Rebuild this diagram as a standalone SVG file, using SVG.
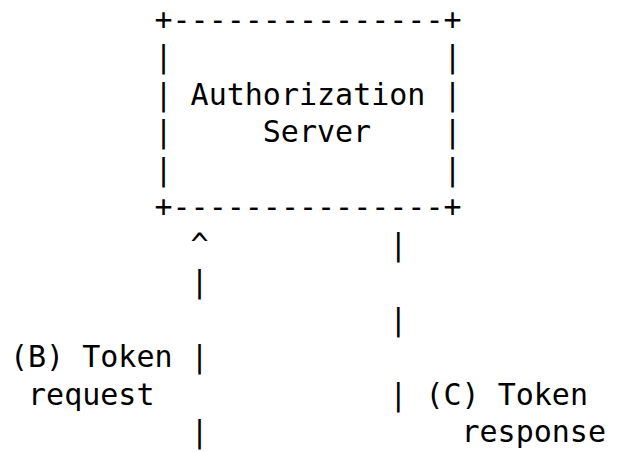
<svg xmlns="http://www.w3.org/2000/svg" width="621" height="452" viewBox="0 0 621 452">
  <style>
    text { font-family: "DejaVu Sans Mono", "Liberation Mono", monospace; font-size: 30px; fill: #000; white-space: pre; }
  </style>
  <rect width="621" height="452" fill="#fff"/>

  <!-- Authorization Server box, drawn in ASCII on a 18.06px character grid -->
  <g id="authorization-server">
    <text x="154.5" y="29.6">+---------------+</text>
    <text x="154.5" y="67.1">|</text>
    <text x="443.4" y="67.1">|</text>
    <text x="154.5" y="104.6">|</text>
    <text x="190.6" y="104.6">Authorization</text>
    <text x="443.4" y="104.6">|</text>
    <text x="154.5" y="142.1">|</text>
    <text x="262.8" y="142.1">Server</text>
    <text x="443.4" y="142.1">|</text>
    <text x="154.5" y="179.6">|</text>
    <text x="443.4" y="179.6">|</text>
    <text x="154.5" y="217.1">+---------------+</text>
  </g>

  <!-- Token request (up) and token response (down) lines -->
  <g id="connectors">
    <text x="190.6" y="254.6">^</text>
    <text x="389.3" y="254.6">|</text>
    <text x="190.6" y="292.1">|</text>
    <text x="389.3" y="329.6">|</text>
    <text x="190.6" y="367.1">|</text>
    <text x="389.3" y="404.6">|</text>
    <text x="190.6" y="442.1">|</text>
  </g>

  <g id="label-token-request">
    <text x="10" y="367.1">(B) Token</text>
    <text x="28.06" y="404.6">request</text>
  </g>

  <g id="label-token-response">
    <text x="425.4" y="404.6">(C) Token</text>
    <text x="461.5" y="442.1">response</text>
  </g>
</svg>
